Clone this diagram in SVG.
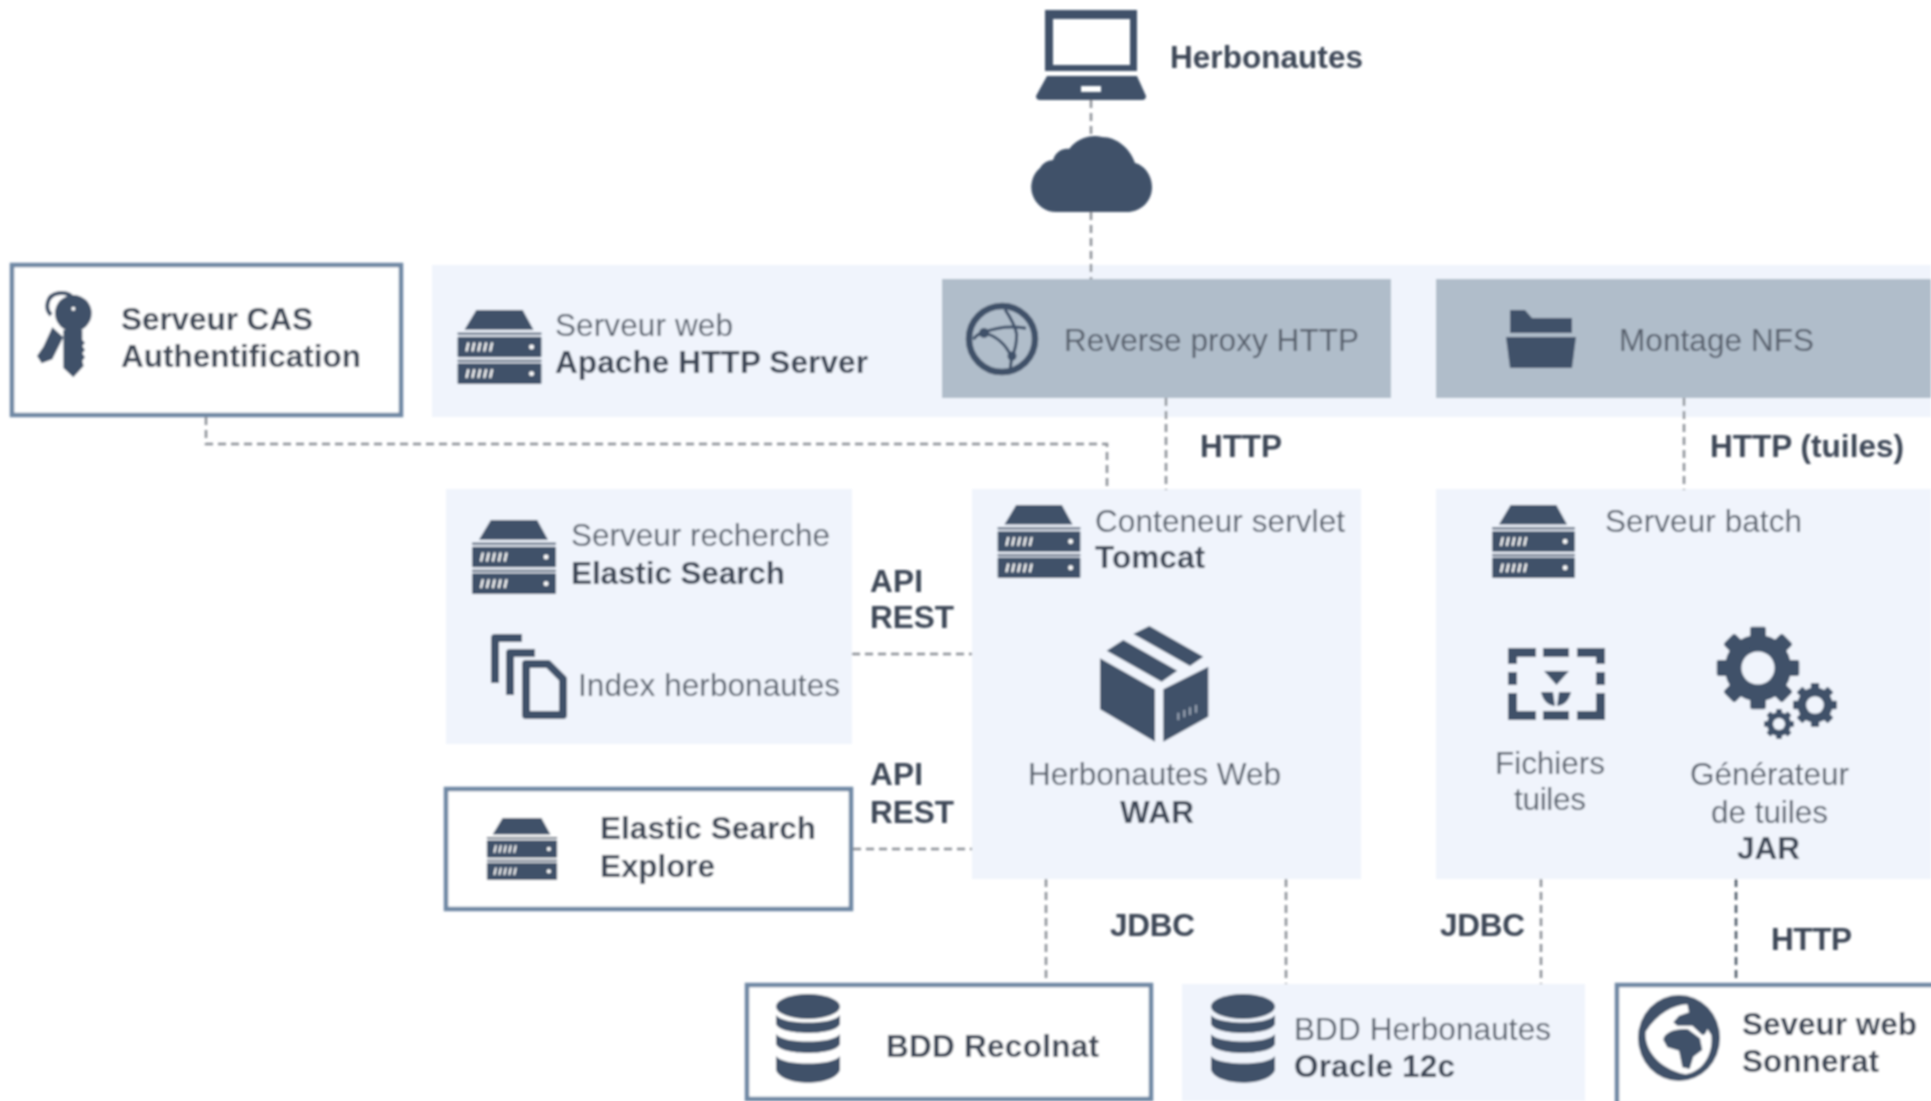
<svg xmlns="http://www.w3.org/2000/svg" xmlns:xlink="http://www.w3.org/1999/xlink" width="1931" height="1101" viewBox="0 0 1931 1101">
<style>
text{font-family:"Liberation Sans",Arial,sans-serif;font-size:31.5px;fill:#565f6c}
.b{font-weight:700;fill:#3d4756}
.panel{fill:#f0f4fc}
.gray{fill:#b0bdca}
.box{fill:#fff;stroke:#6f88a4;stroke-width:4.500}
.d{fill:#3f5169}
.dl{fill:none;stroke:#3f5169}
.c{fill:none;stroke:#8a8f96;stroke-width:2.500;stroke-dasharray:8 5}
</style>
<defs>
<filter id="soft" x="0" y="0" width="100%" height="100%" filterUnits="userSpaceOnUse" primitiveUnits="userSpaceOnUse"><feGaussianBlur stdDeviation="0.9"/></filter>
<symbol id="server" viewBox="0 0 85 75">
<path class="d" d="M19 0H66L77 20H7Z"/>
<rect class="d" x="0" y="23" width="85" height="2"/>
<rect class="d" x="0" y="27" width="85" height="21" rx="1"/>
<rect class="d" x="0" y="50.500" width="85" height="2"/>
<rect class="d" x="0" y="54" width="85" height="21" rx="1"/>
<g fill="none" stroke="#fff" stroke-width="2.200"><path d="M9 42l2-9M15 42l2-9M21 42l2-9M27 42l2-9M33 42l2-9M9 69l2-9M15 69l2-9M21 69l2-9M27 69l2-9M33 69l2-9"/></g>
<circle cx="75" cy="37.500" r="2.500" fill="#fff"/><circle cx="75" cy="64.500" r="2.500" fill="#fff"/>
</symbol>
<symbol id="db" viewBox="0 0 64 90" overflow="visible">
<ellipse class="d" cx="32" cy="12.500" rx="32" ry="12.500"/>
<path class="d" d="M0 21C6 31 58 31 64 21V30C60 42 4 42 0 30Z"/>
<path class="d" d="M0 40C6 50 58 50 64 40V50C60 62 4 62 0 50Z"/>
<path class="d" d="M0 62C6 72 58 72 64 62V76C58 93 6 93 0 76Z"/>
</symbol>
<symbol id="gear" viewBox="-1 -1 2 2">
<circle class="d" r="0.800"/>
<g class="d"><rect x="-0.190" y="-1" width="0.380" height="2" rx="0.060"/><rect x="-0.190" y="-1" width="0.380" height="2" rx="0.060" transform="rotate(45)"/><rect x="-0.190" y="-1" width="0.380" height="2" rx="0.060" transform="rotate(90)"/><rect x="-0.190" y="-1" width="0.380" height="2" rx="0.060" transform="rotate(135)"/></g>
<circle r="0.400" fill="#f0f4fc"/>
</symbol>
</defs>
<rect width="1931" height="1101" fill="#fff"/>
<g filter="url(#soft)">
<g id="herbonautes">
<path class="d" fill-rule="evenodd" d="M1045 10H1137V71H1045ZM1053 19V65H1130V19Z"/>
<path class="d" fill-rule="evenodd" d="M1047 76H1137L1146 96Q1146 100 1142 100H1040Q1036 100 1036 96ZM1081 86V92H1101V86Z"/>
<text class="b" x="1170" y="68" textLength="193">Herbonautes</text>
</g>
<g id="internet">
<path class="d" d="M1056 212A25 25 0 0 1 1040 168A16 16 0 0 1 1053 160C1056 151 1063 148 1069 149A32 32 0 0 1 1102 137C1118 137 1131 150 1135 163C1144 165 1152 175 1152 187C1152 202 1140 212 1127 212Z"/>
</g>
<g id="cas">
<rect class="box" x="12" y="265" width="389" height="150"/>
<g transform="translate(25 280) scale(.33333)">
<path fill="none" stroke="#3f5169" stroke-width="12" d="M78 105C58 85 65 45 100 40C125 37 140 45 146 60"/>
<circle class="d" cx="145" cy="100" r="55"/>
<circle cx="145" cy="86" r="6" fill="#fff"/>
<path class="d" d="M115 150H172V180L180 188L172 198L180 210L172 220L180 232L172 242L176 258L145 292L115 264Z"/>
<path class="d" d="M82 142L115 172L82 238L50 250L36 228L55 200Z"/>
</g>
<text class="b" x="121" y="330" textLength="192">Serveur CAS</text>
<text class="b" x="121" y="367" textLength="240">Authentification</text>
</g>
<g id="apache">
<rect class="panel" x="432" y="265" width="1499" height="152"/>
<use href="#server" x="457" y="310" width="85" height="74"/>
<text x="555" y="336" textLength="178">Serveur web</text>
<text class="b" x="555" y="373" textLength="313">Apache HTTP Server</text>
</g>
<g id="proxy">
<rect class="gray" x="942" y="279" width="449" height="119"/>
<circle class="dl" cx="1002" cy="339" r="33" stroke-width="6.500"/>
<g transform="translate(950 291) scale(.33333)" class="dl" stroke-width="9">
<path d="M70 145Q82 128 100 125Q160 100 228 112"/>
<path d="M165 55Q195 100 200 130Q200 170 185 200L180 238"/>
<path d="M100 125Q160 140 185 200"/>
</g>
<circle class="d" cx="984" cy="333" r="5"/><circle class="d" cx="1012" cy="356" r="4.500"/>
<text x="1064" y="351" textLength="295">Reverse proxy HTTP</text>
</g>
<g id="nfs">
<rect class="gray" x="1436" y="279" width="495" height="119"/>
<path class="d" d="M1510 333V310H1525L1532 318H1572V333Z"/>
<path class="d" d="M1506 337H1576L1572 368H1510Z"/>
<text x="1619" y="351" textLength="195">Montage NFS</text>
</g>
<g id="elastic">
<rect class="panel" x="446" y="489" width="406" height="255"/>
<use href="#server" x="472" y="520" width="84" height="74"/>
<text x="571" y="546" textLength="259">Serveur recherche</text>
<text class="b" x="571" y="584" textLength="214">Elastic Search</text>
<path class="dl" stroke-width="8" stroke-linejoin="round" d="M495 683V638H522M510 695V653H535M526 664H548L563 679V715H526Z"/>
<text x="578" y="696" textLength="262">Index herbonautes</text>
</g>
<g id="explore">
<rect class="box" x="446" y="789" width="405" height="120"/>
<use href="#server" x="486" y="818" width="72" height="62"/>
<text class="b" x="600" y="839" textLength="216">Elastic Search</text>
<text class="b" x="600" y="877" textLength="115">Explore</text>
</g>
<g id="tomcat">
<rect class="panel" x="972" y="489" width="389" height="390"/>
<use href="#server" x="997" y="505" width="84" height="73"/>
<text x="1095" y="532" textLength="250">Conteneur servlet</text>
<text class="b" x="1095" y="568" textLength="110">Tomcat</text>
<g transform="translate(1090 620) scale(.33333)">
<path class="d" d="M30 115L195 208V365L30 268Z"/>
<path class="d" d="M220 208L355 140V290L220 365Z"/>
<path class="d" d="M178 18L340 110L300 138L130 42Z"/>
<path class="d" d="M100 60L262 152L215 185L50 92Z"/>
<path fill="none" stroke="#f0f4fc" stroke-width="5" d="M265 300V278M283 292V270M300 285V262M318 278V255" opacity=".6"/>
</g>
<text x="1028" y="785" textLength="253">Herbonautes Web</text>
<text class="b" x="1120" y="823" textLength="74">WAR</text>
</g>
<g id="batch">
<rect class="panel" x="1436" y="489" width="495" height="390"/>
<use href="#server" x="1491" y="505" width="85" height="73"/>
<text x="1605" y="532" textLength="197">Serveur batch</text>
<path class="dl" stroke-width="9" d="M1536 652.500H1512.500V664M1512.500 672V685M1512.500 693V715.500H1536M1543 652.500H1569M1543 715.500H1569M1577 652.500H1600.500V664M1600.500 672V685M1600.500 693V715.500H1577"/>
<path class="d" d="M1544 671H1569L1556.500 685Z"/>
<path class="d" d="M1541 692H1553L1555 706Q1544 705 1541 692ZM1559 692H1571Q1568 705 1557 706Z"/>
<text x="1495" y="774" textLength="110">Fichiers</text>
<text x="1514" y="810" textLength="72">tuiles</text>
<use href="#gear" x="1716.500" y="626.500" width="83" height="83"/>
<use href="#gear" x="1793" y="683" width="44" height="44"/>
<use href="#gear" x="1764" y="709" width="30" height="30"/>
<text x="1690" y="785" textLength="159">Générateur</text>
<text x="1711" y="823" textLength="117">de tuiles</text>
<text class="b" x="1737" y="859" textLength="63">JAR</text>
</g>
<g id="recolnat">
<rect class="box" x="747" y="985" width="404" height="114"/>
<use href="#db" x="776" y="994" width="64" height="90"/>
<text class="b" x="886" y="1057" textLength="213">BDD Recolnat</text>
</g>
<g id="oracle">
<rect class="panel" x="1182" y="984" width="403" height="117"/>
<use href="#db" x="1211" y="994" width="64" height="90"/>
<text x="1294" y="1040" textLength="257">BDD Herbonautes</text>
<text class="b" x="1294" y="1077" textLength="161">Oracle 12c</text>
</g>
<g id="sonnerat">
<rect class="box" x="1617" y="985" width="320" height="120"/>
<ellipse class="d" cx="1679" cy="1038" rx="41" ry="43"/>
<g transform="translate(1624 985) scale(.33333)">
<path fill="#fff" d="M190 58C150 60 100 85 65 140C60 190 100 250 185 268C240 258 268 205 262 150L250 132C245 150 238 152 232 148L205 122L160 122L148 112L165 92L195 82Z"/>
<path class="d" d="M118 165C118 140 165 128 192 133L228 160L235 195L208 215L197 252L175 247L165 197L130 187Z"/>
</g>
<text class="b" x="1742" y="1035" textLength="175">Seveur web</text>
<text class="b" x="1742" y="1072" textLength="137">Sonnerat</text>
</g>
<g id="labels">
<text class="b" x="1200" y="457" textLength="82">HTTP</text>
<text class="b" x="1710" y="457" textLength="194">HTTP (tuiles)</text>
<text class="b" x="870" y="592" textLength="53">API</text>
<text class="b" x="870" y="628" textLength="84">REST</text>
<text class="b" x="870" y="785" textLength="53">API</text>
<text class="b" x="870" y="823" textLength="84">REST</text>
<text class="b" x="1110" y="936" textLength="85">JDBC</text>
<text class="b" x="1440" y="936" textLength="85">JDBC</text>
<text class="b" x="1771" y="950" textLength="81">HTTP</text>
</g>
<g id="connectors" class="c">
<path class="c" d="M1091 100V137"/>
<path class="c" d="M1091 212V279"/>
<path class="c" d="M1166 398V490"/>
<path class="c" d="M1684 398V490"/>
<path class="c" d="M206 417V444H1107V490"/>
<path class="c" d="M852 654H972"/>
<path class="c" d="M853 849H972"/>
<path class="c" d="M1046 879V983"/>
<path class="c" d="M1286 879V984"/>
<path class="c" d="M1541 879V984"/>
<path class="c" style="stroke:#4a5563" d="M1736 879V983"/>
</g>
</g>
</svg>
